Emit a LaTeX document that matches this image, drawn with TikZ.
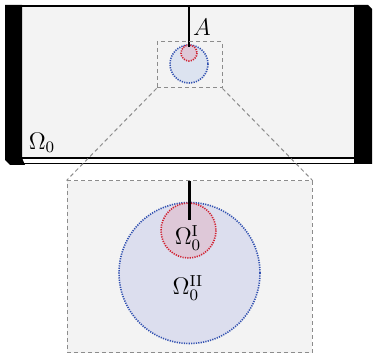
\documentclass[tikz,border=0pt]{standalone}
\usepackage{amsmath}
\usepackage{amssymb}
\usetikzlibrary{arrows.meta}
\definecolor{panelgray}{HTML}{F3F3F3}
\definecolor{dotblue}{HTML}{3050B0}
\definecolor{dotred}{HTML}{D02030}
\definecolor{fillblue}{HTML}{DCDEEE}
\definecolor{fillsmall}{HTML}{DCE3F0}
\definecolor{fillred}{HTML}{DEC8D8}

\begin{document}
\begin{tikzpicture}[x=0.5pt,y=-0.5pt,
    zoombox/.style={draw=gray!90, dashed, dash pattern=on 2pt off 1.5pt, line width=0.5pt},
    dotline/.style={line width=0.8pt, dash pattern=on 0.6pt off 0.6pt},
    crack/.style={line width=1.2pt, black},
    lbl/.style={font=\fontsize{11.5}{13}\selectfont, inner sep=1pt}]
    \useasboundingbox (0,0) rectangle (374,356);

    % Draw top panel
    \fill[panelgray] (20,6) rectangle (356,158);
    \draw[line width=1pt] (20,6) -- (356,6);
    \draw[line width=1.2pt] (20,158) -- (356,158);
    \draw[line width=0.8pt] (10,163.5) -- (356,163.5);

    % Clamped ends
    \fill[black] (5,5) -- (22,5) -- (22,158) -- (25,165) -- (10,165) -- (5,160) -- cycle;
    \fill[black] (354,5) -- (368,5) -- (372,9) -- (372,164) -- (354,164) -- cycle;

    % Crack and small domains
    \fill[fillsmall] (189,64) circle (19);
    \draw[dotline, dotblue] (189,64) circle (19);
    \fill[fillred] (189,53) circle (8);
    \draw[dotline, dotred] (189,53) circle (8);
    \coordinate (crackTop) at (189,6);
    \coordinate (crackTip) at (189,47);
    \draw[crack] (crackTop) -- (crackTip);
    \node[lbl] (labelA) at (202,27) {$A$};
    \node[lbl] (labelOmega) at (42,143) {$\Omega_0$};

    % Zoom boxes
    \node[zoombox, minimum width=32.5pt, minimum height=23pt, inner sep=0pt] (zoomSmall) at (189.5,65) {};
    \node[zoombox, fill=panelgray, minimum width=122.5pt, minimum height=86pt, inner sep=0pt] (zoomBig) at (189.5,267) {};
    \draw[zoombox] (zoomSmall.south west) -- (zoomBig.north west);
    \draw[zoombox] (zoomSmall.south east) -- (zoomBig.north east);

    % Enlarged domains
    \fill[fillblue] (189.5,273) circle (70.5);
    \draw[dotline, dotblue] (189.5,273) circle (70.5);
    \fill[fillred] (188.5,230.5) circle (27.5);
    \draw[dotline, dotred] (188.5,230.5) circle (27.5);
    \coordinate (bigCrackTop) at (189,181);
    \coordinate (bigCrackTip) at (189,220);
    \draw[line width=1.5pt] (bigCrackTop) -- (bigCrackTip);
    \node[lbl] (labelOmegaI) at (188,238) {$\Omega_0^{\mathrm{I}}$};
    \node[lbl] (labelOmegaII) at (188,288) {$\Omega_0^{\mathrm{II}}$};

\end{tikzpicture}
\end{document}
